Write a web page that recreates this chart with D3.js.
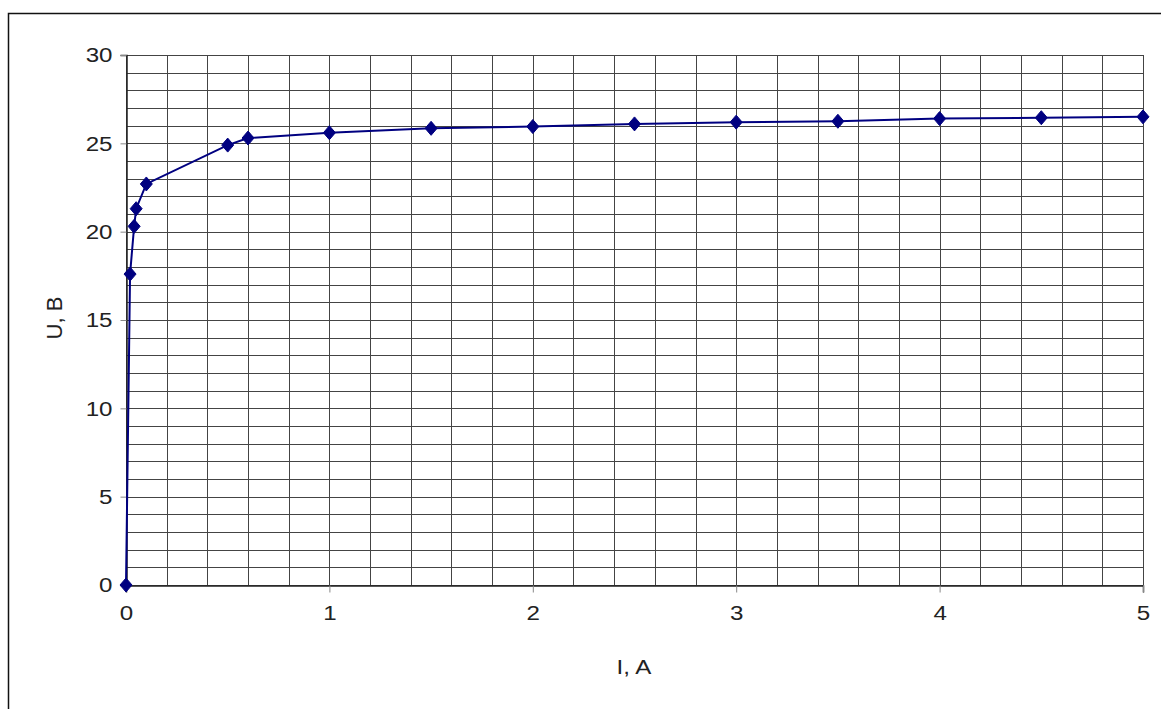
<!DOCTYPE html>
<html>
<head>
<meta charset="utf-8">
<script src="https://cdn.jsdelivr.net/npm/d3@7"></script>
<style>
  html, body { margin: 0; padding: 0; background: #fff; }
  svg { display: block; }
  text { font-family: "Liberation Sans", Arial, sans-serif; fill: #222; }
</style>
</head>
<body>
<svg id="chart" width="1161" height="709"></svg>
<script>
const currentA = [0, 0.02, 0.04, 0.05, 0.1, 0.5, 0.6, 1, 1.5, 2, 2.5, 3, 3.5, 4, 4.5, 5];
const voltageV = [0, 17.6, 20.3, 21.3, 22.7, 24.9, 25.3, 25.6, 25.85, 25.95, 26.1, 26.2, 26.25, 26.4, 26.45, 26.5];
const xTicks = [0, 1, 2, 3, 4, 5];
const yTicks = [0, 5, 10, 15, 20, 25, 30];
const xLabel = "I, A";
const yLabel = "U, B";

const data = currentA.map((x, i) => ({ x, y: voltageV[i] }));
const svg = d3.select("#chart");

const x = d3.scaleLinear().domain([0, 5]).range([126, 1143]);
const y = d3.scaleLinear().domain([0, 30]).range([585, 55]);
const stretch = 1.15;

// outer border
svg.append("rect").attr("x", 8.5).attr("y", 13.5).attr("width", 1170).attr("height", 710)
  .attr("fill", "none").attr("stroke", "#111").attr("stroke-width", 1.5);

// grid
const g = svg.append("g");
g.selectAll("line.v").data(d3.range(0, 26).map(i => i * 0.2)).join("line")
  .attr("x1", d => Math.round(x(d)) + 0.5).attr("x2", d => Math.round(x(d)) + 0.5)
  .attr("y1", y(30)).attr("y2", y(0))
  .attr("stroke", "#444").attr("stroke-width", 1);
g.selectAll("line.h").data(d3.range(0, 31)).join("line")
  .attr("x1", x(0)).attr("x2", x(5))
  .attr("y1", d => Math.round(y(d)) + 0.5).attr("y2", d => Math.round(y(d)) + 0.5)
  .attr("stroke", "#444").attr("stroke-width", 1);

// axes
const yAxis = d3.axisLeft(y).tickValues(yTicks).tickSize(6).tickPadding(8).tickFormat(d3.format("d"));
const xAxis = d3.axisBottom(x).tickValues(xTicks).tickSize(7).tickPadding(13).tickFormat(d3.format("d"));
const ya = svg.append("g").attr("transform", `translate(${Math.round(x(0)) + 0.5},0)`).call(yAxis);
const xa = svg.append("g").attr("transform", `translate(0,${Math.round(y(0)) + 0.5})`).call(xAxis);
[ya, xa].forEach(a => {
  a.select(".domain").attr("stroke", "#222").attr("stroke-width", 1.5);
  a.selectAll(".tick line").attr("stroke", "#888");
  a.selectAll("text").attr("font-size", 21).attr("fill", "#222")
    .attr("font-family", "Liberation Sans, Arial, sans-serif");
});
ya.selectAll(".tick text").each(function() {
  const t = d3.select(this);
  const xx = +t.attr("x");
  t.attr("transform", `scale(${stretch},1)`).attr("x", xx / stretch);
});
xa.selectAll(".tick text").attr("transform", `scale(${stretch},1)`).attr("dy", "0.71em");

// axis titles
svg.append("text").attr("transform", `translate(634,667) scale(${stretch},1)`)
  .attr("text-anchor", "middle").attr("dominant-baseline", "central")
  .attr("font-size", 21).text(xLabel);
svg.append("text").attr("transform", `translate(54,318) rotate(-90)`)
  .attr("text-anchor", "middle").attr("dominant-baseline", "central")
  .attr("font-size", 22).text(yLabel);

// series line
const line = d3.line().x(d => x(d.x)).y(d => y(d.y));
svg.append("path").datum(data).attr("d", line)
  .attr("fill", "none").attr("stroke", "#000080").attr("stroke-width", 2);

// markers
const diamond = "M0,-7L6,0L0,7L-6,0Z";
svg.selectAll("path.m").data(data).join("path")
  .attr("class", "m")
  .attr("transform", d => `translate(${x(d.x)},${y(d.y)})`)
  .attr("d", diamond)
  .attr("fill", "#000080").attr("stroke", "#000080").attr("stroke-width", 1);
</script>
</body>
</html>
